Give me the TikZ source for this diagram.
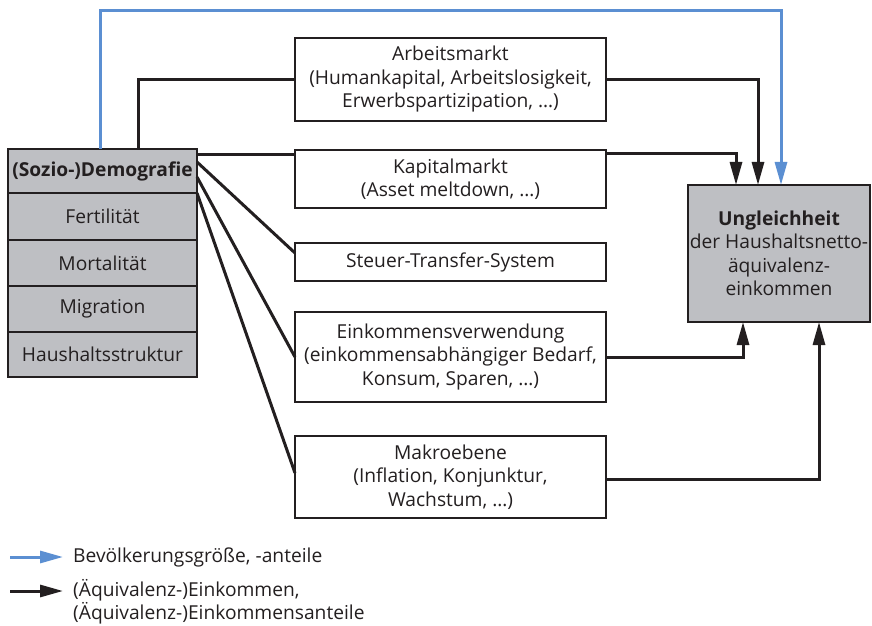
\documentclass[tikz,border=0pt]{standalone}
\usepackage{fontspec}
\setmainfont{Open Sans}
\usepackage{xcolor}
\usetikzlibrary{positioning,calc,arrows.meta}
\definecolor{txt}{HTML}{231F20}
\definecolor{boxgray}{HTML}{BEBFC3}
\definecolor{bevblue}{HTML}{5B8FD2}
\begin{document}
\begin{tikzpicture}[x=1pt, y=1pt,
    every node/.style={font=\fontsize{19.2}{23.5}\selectfont, text=txt},
    demobox/.style={draw=txt, line width=1.5pt, fill=boxgray, minimum width=189pt,
                    inner sep=0pt, outer sep=0pt, align=center},
    mbox/.style={draw=txt, line width=1.5pt, fill=white, minimum width=311pt,
                 inner sep=0pt, outer sep=0pt, align=center},
    ungbox/.style={draw=txt, line width=1.5pt, fill=boxgray, minimum width=182pt,
                   minimum height=137pt, inner sep=0pt, outer sep=0pt, align=center},
    ek/.style={draw=txt, line width=3pt},
    eka/.style={ek, -{Triangle[length=23pt, width=12pt]}},
    bev/.style={draw=bevblue, line width=3pt, -{Triangle[length=23pt, width=12pt]}},
]
\useasboundingbox (0,0) rectangle (872,625);

% =====================================================================
% (Sozio-)Demografie column on the left
% =====================================================================
\node[demobox, minimum height=44pt] (demo) at (102.5,454) {\bfseries (Sozio-)Demografie};
\node[demobox, minimum height=47pt, below=0pt of demo] (fert) {Fertilität};
\node[demobox, minimum height=46pt, below=0pt of fert] (mort) {Mortalität};
\node[demobox, minimum height=46pt, below=0pt of mort] (migr) {Migration};
\node[demobox, minimum height=45pt, below=0pt of migr] (haus) {Haushaltsstruktur};

% =====================================================================
% Channels in the middle
% =====================================================================
\node[mbox, minimum height=83pt] (arb) at (450.5,545.5)
    {Arbeitsmarkt\\(Humankapital, Arbeitslosigkeit,\\Erwerbspartizipation, \dots)};
\node[mbox, minimum height=58pt] (kap) at (450.5,446)
    {Kapitalmarkt\\(Asset meltdown, \dots)};
\node[mbox, minimum height=38pt] (steu) at (450.5,363) {Steuer-Transfer-System};
\node[mbox, minimum height=90pt] (eink) at (450.5,268)
    {Einkommensverwendung\\(einkommensabhängiger Bedarf,\\Konsum, Sparen, \dots)};
\node[mbox, minimum height=82pt] (makro) at (450.5,148)
    {Makroebene\\(Inflation, Konjunktur,\\Wachstum, \dots)};

% Target box on the right
\node[ungbox] (ungl) at (779,371.5)
    {\textbf{Ungleichheit}\\der Haushaltsnetto-\\äquivalenz-\\einkommen};

% =====================================================================
% Connectors
% =====================================================================
% Population size: straight over the top
\draw[bev] ([xshift=92pt]demo.north west) -- ++(0,138) -| ([xshift=93pt]ungl.north west);

% Labour market
\draw[ek] ([xshift=130pt]demo.north west) |- (arb.west);
\draw[eka] (arb.east) -| ([xshift=70pt]ungl.north west);

% Capital market
\draw[ek] ([yshift=-6pt]demo.north east) -- ([yshift=-5pt]kap.north west);
\draw[eka] ([yshift=-4pt]kap.north east) -| ([xshift=48pt]ungl.north west);

% Fan-out to the lower channels
\draw[ek] ([yshift=-13pt]demo.north east) -- ([yshift=-10pt]steu.north west);
\draw[ek] ([yshift=-28pt]demo.north east) -- (eink.west);
\draw[ek] (demo.south east) -- ([yshift=-37pt]makro.north west);

% Back up into the target box
\draw[eka] (eink.east) -| ([xshift=55pt]ungl.south west);
\draw[eka] ([yshift=-43pt]makro.north east) -| ([xshift=131pt]ungl.south west);

% =====================================================================
% Legend
% =====================================================================
\coordinate (lgb) at (10,68);
\draw[bev] (lgb) -- ++(53,0);
\node[anchor=west, inner sep=0pt] (lgbtxt) at (73,68) {Bevölkerungsgröße, -anteile};

\coordinate (lge) at (10,34);
\draw[eka] (lge) -- ++(53,0);
\node[anchor=north west, inner sep=0pt, align=left] (lgetxt) at (73,46)
    {(Äquivalenz-)Einkommen,\\(Äquivalenz-)Einkommensanteile};
\end{tikzpicture}
\end{document}
